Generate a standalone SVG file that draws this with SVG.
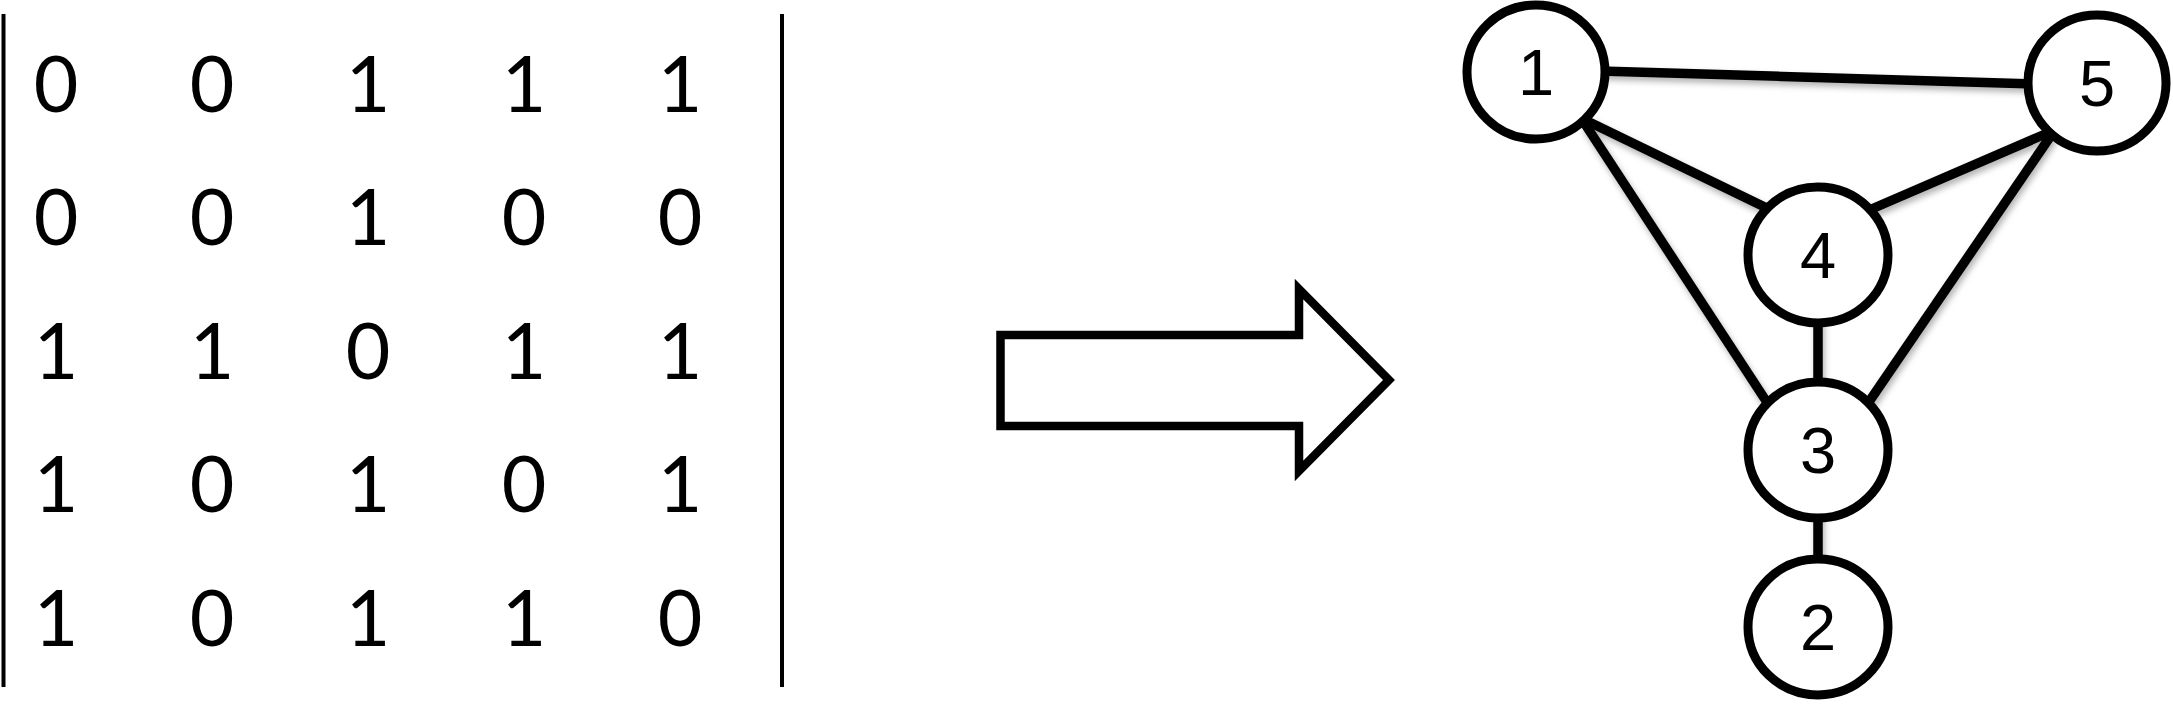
<svg xmlns="http://www.w3.org/2000/svg" width="2173" height="717" viewBox="0 0 2173 717">
  <style>
    .m { font-family: Lato, "Liberation Sans", sans-serif; font-size: 77px; fill: #000; text-anchor: middle; }
    .bar { stroke: #000; stroke-width: 4; fill: none; }
    .edge { stroke: #000; stroke-width: 9.5; fill: none; }
    .node ellipse { fill: #fff; stroke: #000; stroke-width: 9; }
    .node text { font-family: "Liberation Sans", Arial, sans-serif; font-size: 65px; fill: #000; text-anchor: middle; }
  </style>
  <defs>
    <filter id="sh" x="-20%" y="-20%" width="140%" height="140%">
      <feDropShadow dx="2" dy="4" stdDeviation="3" flood-color="#000" flood-opacity="0.3"/>
    </filter>
  </defs>
  <rect width="2173" height="717" fill="#fff"/>

  <g id="matrix">
    <line class="bar" x1="3.5" y1="14" x2="3.5" y2="687"/>
    <line class="bar" x1="782" y1="14" x2="782" y2="687"/>
    <g id="row1">
      <text class="m" x="56" y="112">0</text><text class="m" x="212" y="112">0</text><text class="m" x="368" y="112">1</text><text class="m" x="524" y="112">1</text><text class="m" x="680" y="112">1</text>
    </g>
    <g id="row2">
      <text class="m" x="56" y="245">0</text><text class="m" x="212" y="245">0</text><text class="m" x="368" y="245">1</text><text class="m" x="524" y="245">0</text><text class="m" x="680" y="245">0</text>
    </g>
    <g id="row3">
      <text class="m" x="56" y="379">1</text><text class="m" x="212" y="379">1</text><text class="m" x="368" y="379">0</text><text class="m" x="524" y="379">1</text><text class="m" x="680" y="379">1</text>
    </g>
    <g id="row4">
      <text class="m" x="56" y="512">1</text><text class="m" x="212" y="512">0</text><text class="m" x="368" y="512">1</text><text class="m" x="524" y="512">0</text><text class="m" x="680" y="512">1</text>
    </g>
    <g id="row5">
      <text class="m" x="56" y="646">1</text><text class="m" x="212" y="646">0</text><text class="m" x="368" y="646">1</text><text class="m" x="524" y="646">1</text><text class="m" x="680" y="646">0</text>
    </g>
  </g>

  <g id="big-arrow">
    <polygon points="1000.5,335 1299,335 1299,289 1389,380 1299,471 1299,426 1000.5,426" fill="#fff" stroke="#000" stroke-width="8.5" stroke-linejoin="miter"/>
  </g>

  <g id="connectors" filter="url(#sh)">
    <line class="edge" x1="1600" y1="71" x2="2035" y2="84"/>
    <line class="edge" x1="1585" y1="120" x2="1775" y2="212"/>
    <line class="edge" x1="1585" y1="124" x2="1772" y2="410"/>
    <line class="edge" x1="1860" y1="214" x2="2050" y2="132"/>
    <line class="edge" x1="2052" y1="134" x2="1862" y2="412"/>
    <line class="edge" x1="1818" y1="315" x2="1818" y2="390"/>
    <line class="edge" x1="1818" y1="510" x2="1818" y2="572"/>
  </g>

  <g id="node1" class="node">
    <ellipse cx="1536" cy="72" rx="69" ry="67"/>
    <text x="1536" y="95">1</text>
  </g>
  <g id="node5" class="node">
    <ellipse cx="2097" cy="83" rx="69" ry="68"/>
    <text x="2097" y="106">5</text>
  </g>
  <g id="node4" class="node">
    <ellipse cx="1818" cy="255" rx="70" ry="68"/>
    <text x="1818" y="278">4</text>
  </g>
  <g id="node3" class="node">
    <ellipse cx="1818" cy="450" rx="70" ry="68"/>
    <text x="1818" y="473">3</text>
  </g>
  <g id="node2" class="node">
    <ellipse cx="1818" cy="627" rx="70" ry="68"/>
    <text x="1818" y="650">2</text>
  </g>
</svg>
